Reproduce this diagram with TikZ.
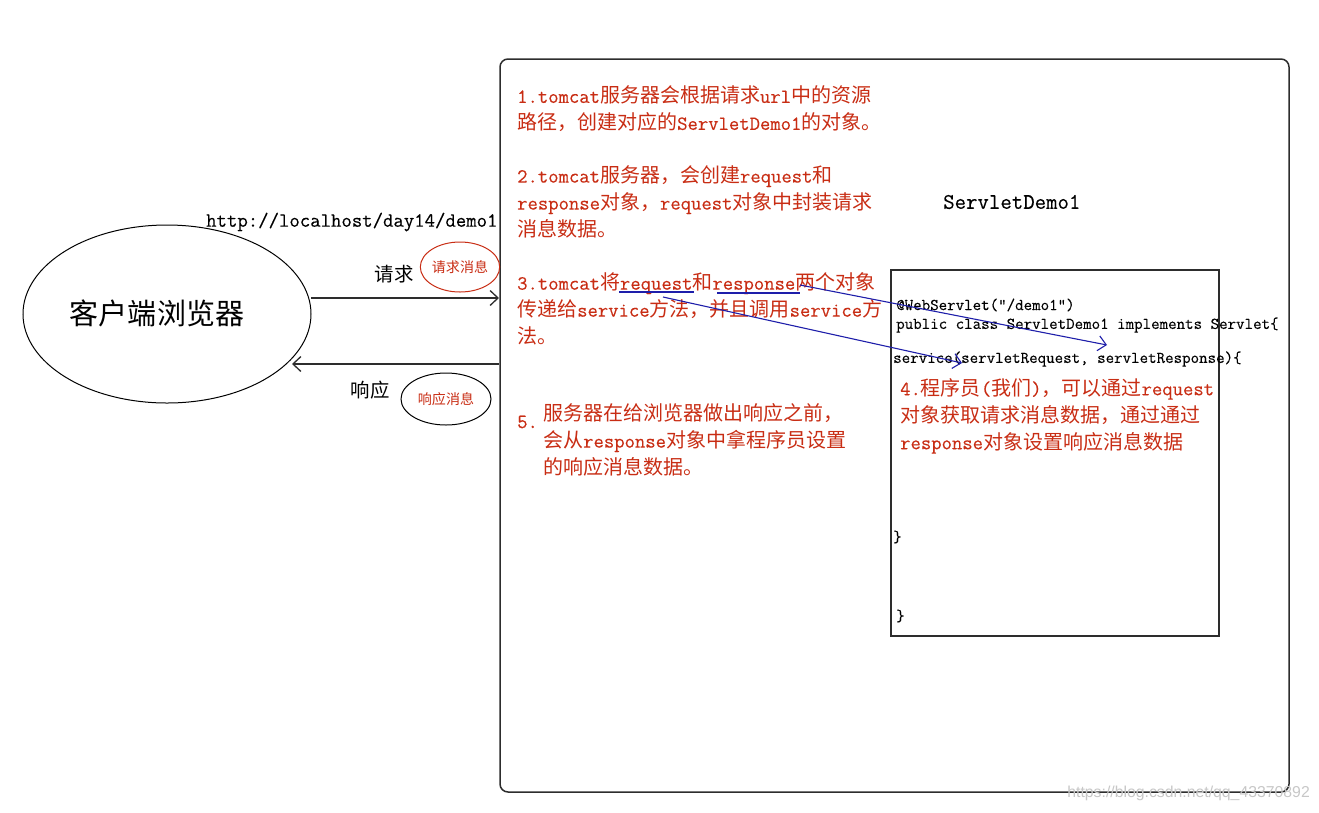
\documentclass[tikz,border=0pt]{standalone}
\usepackage{fontspec}
\usetikzlibrary{shapes.geometric}
\usetikzlibrary{arrows.meta}
\newfontfamily\cjk[Scale=0.995]{Noto Sans CJK SC}
\newfontfamily\wmfont{Liberation Sans}
\setmonofont[FakeBold=0.3]{Latin Modern Mono}
\newcommand{\zh}[1]{{\cjk #1}}
\definecolor{stepred}{RGB}{200,45,20}
\definecolor{linkblue}{RGB}{30,30,170}
\definecolor{linegray}{RGB}{45,45,45}
\tikzset{
	steptext/.style={anchor=west,align=left,inner sep=0pt,text=stepred,font=\ttfamily\fontsize{20.1}{27}\selectfont},
	codetext/.style={anchor=west,align=left,inner sep=0pt,font=\ttfamily\fontsize{16.5}{20}\selectfont},
	msgtext/.style={inner sep=0pt,font=\cjk\fontsize{14.1}{16}\selectfont},
	saytext/.style={inner sep=0pt,font=\cjk\fontsize{19.5}{22}\selectfont},
	msgoval/.style={draw,ellipse,line width=1pt,inner sep=0pt,minimum width=#1},
	link/.style={->,linkblue,line width=1.1pt},
}
\begin{document}
\begin{tikzpicture}[x=1pt,y=-1pt,>={Straight Barb[length=8pt,width=15pt]}]
	\useasboundingbox (0,0) rectangle (1319,812);

	\node[draw=linegray,line width=1.5pt,rounded corners=8pt,minimum width=789pt,minimum height=733pt,inner sep=0pt] (server) at (894.5,425.5) {};
	\node[draw=linegray,line width=1.5pt,minimum width=328pt,minimum height=366pt,inner sep=0pt] (servlet) at (1055,453) {};
	\node[draw,ellipse,line width=1pt,inner sep=0pt,minimum width=288pt,minimum height=178pt] (browser) at (167,314) {};
	\node[inner sep=0pt,font=\cjk\fontsize{29.2}{32}\selectfont] (browsertext) at (157,313) {客户端浏览器};

	\node[msgoval=78pt,minimum height=50pt,draw=stepred,text=stepred,msgtext] (reqmsg) at (460,267) {请求消息};
	\node[msgoval=90pt,minimum height=52pt,text=stepred,msgtext] (respmsg) at (446,399) {响应消息};
	\node[saytext] (reqlabel) at (394,274) {请求};
	\node[saytext] (resplabel) at (370,390) {响应};
	\node[anchor=west,inner sep=0pt,font=\ttfamily\fontsize{20.2}{24}\selectfont] (url) at (206,222) {http://localhost/day14/demo1};
	\node[anchor=west,inner sep=0pt,font=\ttfamily\fontsize{22.2}{26}\selectfont] (title) at (943,202) {ServletDemo1};

	\node[steptext] (stepa) at (517,109) {1.tomcat\zh{服务器会根据请求}url\zh{中的资源}\\\zh{路径，创建对应的}ServletDemo1\zh{的对象。}};
	\node[steptext] (stepb) at (517,202) {2.tomcat\zh{服务器，会创建}request\zh{和}\\response\zh{对象，}request\zh{对象中封装请求}\\\zh{消息数据。}};
	\node[steptext] (stepc) at (517,309) {3.tomcat\zh{将}request\zh{和}response\zh{两个对象}\\\zh{传递给}service\zh{方法，并且调用}service\zh{方}\\\zh{法。}};
	\node[steptext] (stepd) at (900,416) {4.\zh{程序员}(\zh{我们})\zh{，可以通过}request\\\zh{对象获取请求消息数据，通过通过}\\response\zh{对象设置响应消息数据}};
	\node[steptext] (stepe) at (517,422) {5.};
	\node[steptext] (stepf) at (543,440) {\zh{服务器在给浏览器做出响应之前，}\\\zh{会从}response\zh{对象中拿程序员设置}\\\zh{的响应消息数据。}};

	\node[codetext] (anno) at (896,305) {@WebServlet("/demo1")};
	\node[codetext] (classline) at (896,325) {public class ServletDemo1 implements Servlet\{};
	\node[codetext] (service) at (893,359) {service(servletRequest, servletResponse)\{};
	\node[codetext] (closea) at (893,537) {\}};
	\node[codetext] (closeb) at (896,616) {\}};

	\node[anchor=east,inner sep=0pt,text=black!22,font=\wmfont\fontsize{15.8}{18}\selectfont] (mark) at (1310,793) {https://blog.csdn.net/qq\_43370892};

	\coordinate (reqa) at (311,298);
	\coordinate (reqb) at (499,298);
	\coordinate (respa) at (499,364);
	\coordinate (respb) at (292,364);
	\draw[->,linegray,line width=1.3pt] (reqa) -- (reqb);
	\draw[->,linegray,line width=1.3pt] (respa) -- (respb);

	\coordinate (ula) at (619,292);
	\coordinate (ulb) at (694,292);
	\coordinate (ulc) at (717,293);
	\coordinate (uld) at (800,293);
	\coordinate (linka) at (800,285);
	\coordinate (linkb) at (1107,345);
	\coordinate (linkc) at (663,297);
	\coordinate (linkd) at (962,363);
	\draw[linkblue,line width=1.1pt] (ula) -- (ulb);
	\draw[linkblue,line width=1.1pt] (ulc) -- (uld);
	\draw[link] (linka) -- (linkb);
	\draw[link] (linkc) -- (linkd);
\end{tikzpicture}
\end{document}
